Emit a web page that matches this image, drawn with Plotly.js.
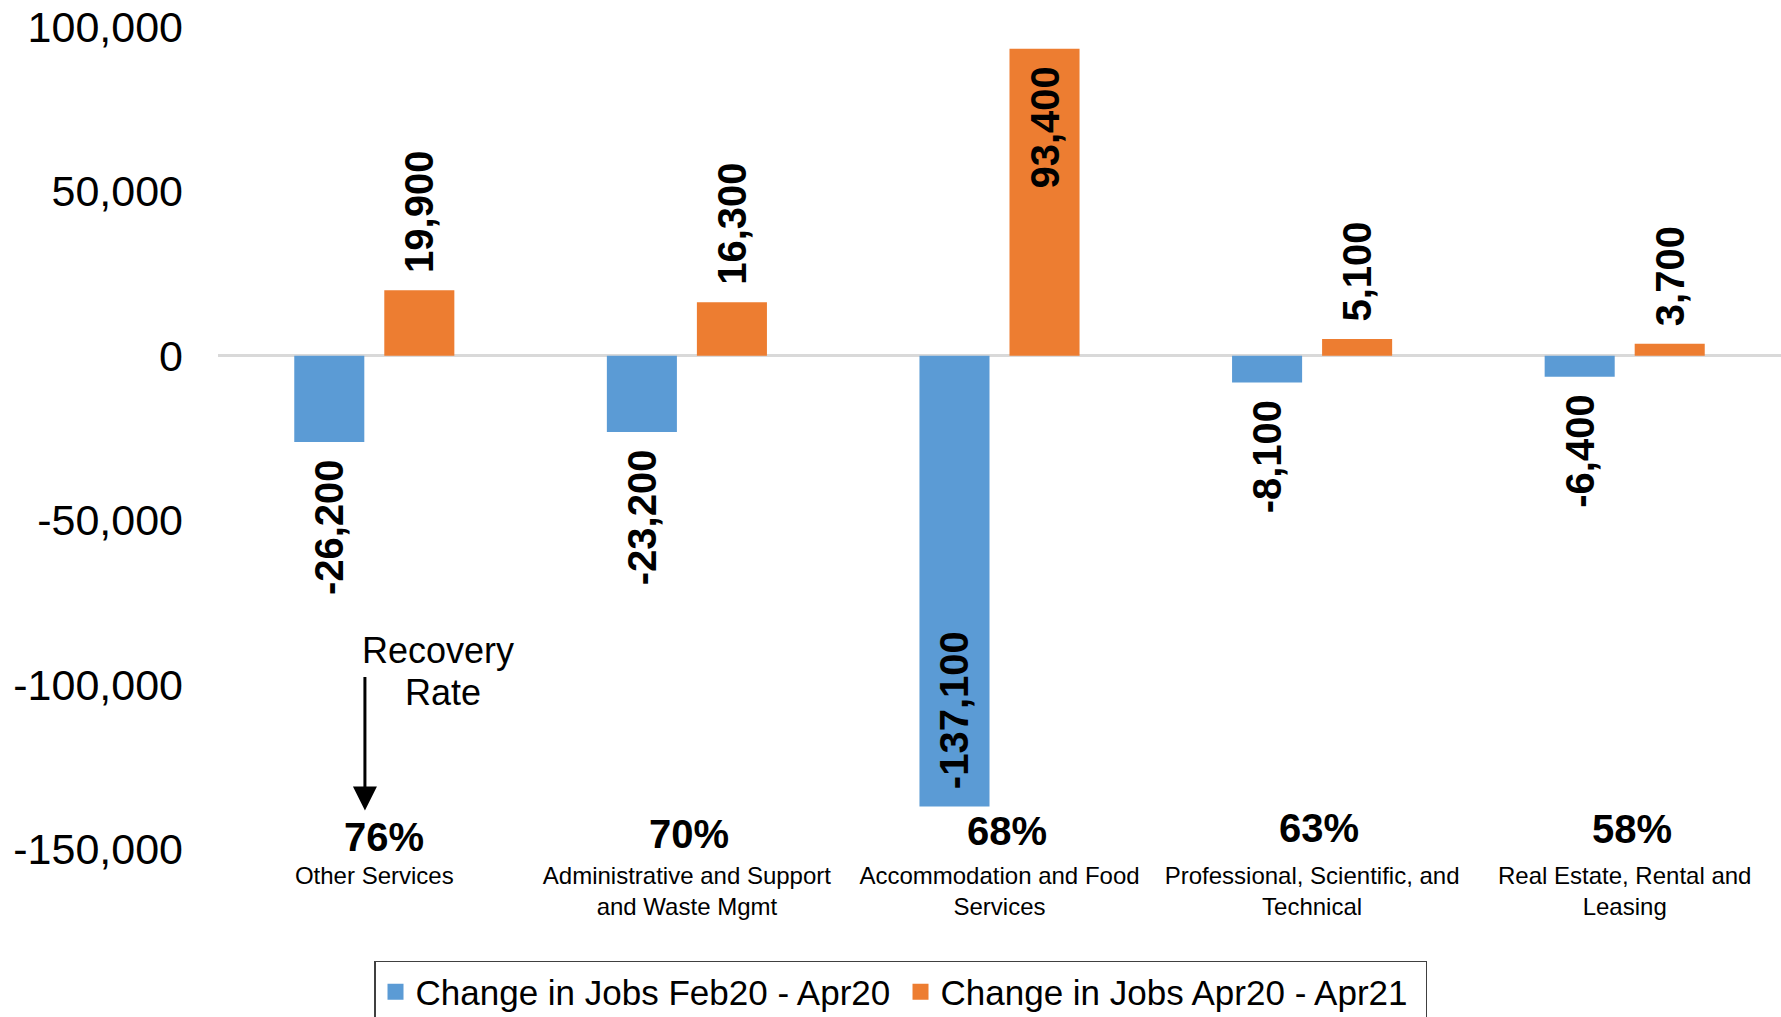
<!DOCTYPE html>
<html>
<head>
<meta charset="utf-8">
<script src="https://cdn.plot.ly/plotly-3.0.1.min.js"></script>
<style>
html,body{margin:0;padding:0;background:#fff;}
#chart{width:1781px;height:1017px;}
</style>
</head>
<body>
<div id="chart"></div>
<script>
// ---- data ----
var categories = [
  "Other Services",
  "Administrative and Support<br>and Waste Mgmt",
  "Accommodation and Food<br>Services",
  "Professional, Scientific, and<br>Technical",
  "Real Estate, Rental and<br>Leasing"
];
var changeFeb20Apr20 = [-26200, -23200, -137100, -8100, -6400];
var changeApr20Apr21 = [19900, 16300, 93400, 5100, 3700];
var recoveryRate = [76, 70, 68, 63, 58];
var seriesNames = ["Change in Jobs Feb20 - Apr20", "Change in Jobs Apr20 - Apr21"];
var yTickVals = [-150000, -100000, -50000, 0, 50000, 100000];
var yTickLabels = ["-150,000", "-100,000", "-50,000", "0", "50,000", "100,000"];

// ---- styling ----
var COLORS = ["#5B9BD5", "#ED7D31"];
var FONT = "Arial, 'Liberation Sans', sans-serif";
var pctXShift = [10, 2, 7, 7, 7];
var pctYShift = [-8, -5, -2, 1, 0];

var NB = "\u00A0";
function fmt(v){ return v.toLocaleString("en-US"); }

var bluePos = changeFeb20Apr20.map(function(v){ return v < -100000 ? "inside" : "outside"; });
var orangePos = changeApr20Apr21.map(function(v){ return v > 80000 ? "inside" : "outside"; });
var blueText = changeFeb20Apr20.map(function(v,i){
  return bluePos[i]==="inside" ? NB+"\u200A"+fmt(v) : fmt(v)+"\u200A"+NB; });
var orangeText = changeApr20Apr21.map(function(v,i){
  return orangePos[i]==="inside" ? fmt(v)+"\u200A"+NB : NB+"\u200A"+fmt(v); });

var labelFont = {family: FONT, size: 40, color: "#000", weight: "bold"};

var traces = [
  {
    type: "bar", name: seriesNames[0], x: categories, y: changeFeb20Apr20,
    marker: {color: COLORS[0], line: {width: 0}}, showlegend: false,
    text: blueText, textposition: bluePos, textangle: -90,
    insidetextanchor: "end", constraintext: "none", cliponaxis: false,
    textfont: labelFont, insidetextfont: labelFont, outsidetextfont: labelFont,
    hoverinfo: "skip"
  },
  {
    type: "bar", name: seriesNames[1], x: categories, y: changeApr20Apr21,
    marker: {color: COLORS[1], line: {width: 0}}, showlegend: false,
    text: orangeText, textposition: orangePos, textangle: -90,
    insidetextanchor: "end", constraintext: "none", cliponaxis: false,
    textfont: labelFont, insidetextfont: labelFont, outsidetextfont: labelFont,
    hoverinfo: "skip"
  },
  // legend entries (larger square keys)
  {
    type: "scatter", mode: "markers", name: seriesNames[0], x: [null], y: [null],
    marker: {symbol: "square", size: 16, color: COLORS[0]}, hoverinfo: "skip"
  },
  {
    type: "scatter", mode: "markers", name: seriesNames[1], x: [null], y: [null],
    marker: {symbol: "square", size: 16, color: COLORS[1]}, hoverinfo: "skip"
  }
];

var annotations = recoveryRate.map(function(r, i){
  return {
    x: categories[i], xref: "x", y: 0.0238, yref: "paper",
    text: r + "%", showarrow: false, xshift: pctXShift[i], yshift: pctYShift[i],
    xanchor: "center", yanchor: "middle",
    font: {family: FONT, size: 40, color: "#000", weight: "bold"}
  };
});
annotations.push({
  x: 0.1407, y: 0.2410, xref: "paper", yref: "paper",
  text: "Recovery", showarrow: false,
  xanchor: "center", yanchor: "middle",
  font: {family: FONT, size: 36, color: "#000"}
});
annotations.push({
  x: 0.1439, y: 0.1900, xref: "paper", yref: "paper",
  text: "Rate", showarrow: false,
  xanchor: "center", yanchor: "middle",
  font: {family: FONT, size: 36, color: "#000"}
});
annotations.push({
  x: 0.094, y: 0.0467, xref: "paper", yref: "paper",
  ax: 0.094, ay: 0.2111, axref: "paper", ayref: "paper",
  text: "", showarrow: true, arrowhead: 2, arrowsize: 1.6, arrowwidth: 3,
  arrowcolor: "#000"
});

var layout = {
  width: 1781, height: 1017,
  margin: {l: 218, r: 0, t: 27, b: 168, pad: 0, autoexpand: false},
  paper_bgcolor: "#fff", plot_bgcolor: "#fff",
  barmode: "group", bargap: 0.424, bargroupgap: 0.222,
  showlegend: true,
  legend: {
    orientation: "h", xref: "container", yref: "container",
    x: 0.21, xanchor: "left", y: 0.0551, yanchor: "top",
    font: {family: FONT, size: 35, color: "#000"},
    bordercolor: "#404040", borderwidth: 1.5, bgcolor: "#fff",
    entrywidth: 480, entrywidthmode: "pixels",
    traceorder: "normal", itemclick: false
  },
  xaxis: {
    type: "category", showgrid: false, zeroline: false, showline: false,
    ticks: "", tickfont: {family: FONT, size: 24, color: "#000"},
    ticklabelstandoff: 10, fixedrange: true, automargin: false
  },
  yaxis: {
    range: [-150000, 100000], tickvals: yTickVals, ticktext: yTickLabels,
    showgrid: false, showline: false, ticks: "",
    zeroline: true, zerolinecolor: "#D9D9D9", zerolinewidth: 3,
    tickfont: {family: FONT, size: 43, color: "#000"},
    ticklabelstandoff: 34, fixedrange: true, automargin: false
  },
  annotations: annotations
};

Plotly.newPlot("chart", traces, layout, {displayModeBar: false, staticPlot: true});
</script>
</body>
</html>
